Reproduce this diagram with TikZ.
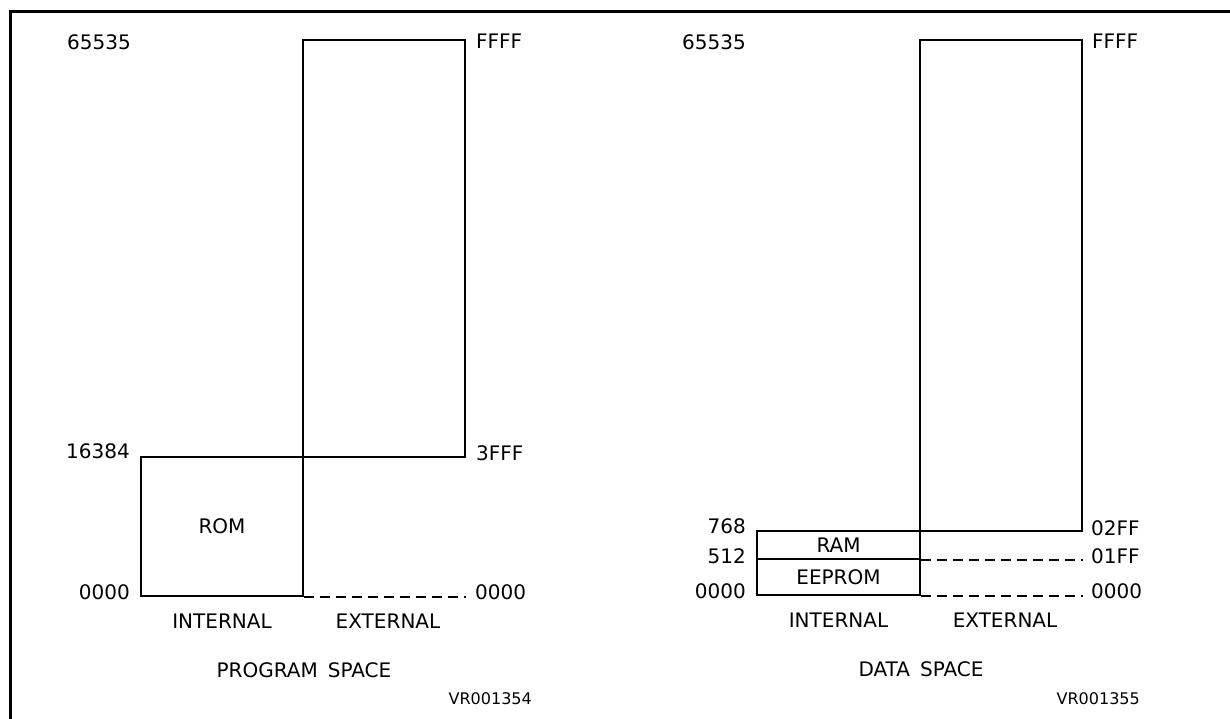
\documentclass[tikz,border=0pt]{standalone}
\usepackage{fontspec}
\setmainfont{DejaVu Sans}
\usepackage{tikz}
\usetikzlibrary{
  positioning,
  calc
}
\tikzset{
  frameline/.style={
    line width=3pt,
    draw=black,
  },
  membox/.style={
    draw=black,
    line width=2pt,
    inner sep=0pt,
    align=center,
    font=\fontsize{20}{22}\selectfont,
  },
  dashline/.style={
    line width=2pt,
    dash pattern=on 10pt off 6pt,
  },
  addr/.style={
    font=\fontsize{20}{22}\selectfont,
    inner sep=0pt,
  },
  tag/.style={
    font=\fontsize{20}{22}\selectfont,
    inner sep=0pt,
  },
  figcode/.style={
    font=\fontsize{16}{18}\selectfont,
    inner sep=0pt,
  },
}

\begin{document}
\begin{tikzpicture}[
  x=1pt, y=-1pt,
]
  \useasboundingbox (0,0) rectangle (1230,719);
  \draw[frameline] (10,719) -- (10,11.5) -- (1230,11.5);

  % Left map --- program space
  \node[membox, minimum width=162pt, minimum height=417pt] (pext) at (384,248.5) {};
  \node[membox, minimum width=162pt, minimum height=139pt] (rom) at (222,526.5) {ROM};
  \draw[dashline] (rom.south east) -- (pext.east |- rom.south);

  \node[addr, left=9pt of rom.west |- pext.north, yshift=-3pt] (p65535) {65535};
  \node[addr, left=10pt of rom.north west, yshift=5pt] (p16384) {16384};
  \node[addr, left=10pt of rom.south west, yshift=5pt] (p0000) {0000};
  \node[addr, right=10pt of pext.north east, yshift=-2pt] (pffff) {FFFF};
  \node[addr, right=10pt of pext.south east, yshift=5pt] (p3fff) {3FFF};
  \node[addr, right=9pt of pext.east |- rom.south, yshift=5pt] (p0000x) {0000};

  \node[tag, below=17pt of rom.south] (pint) {INTERNAL};
  \node[tag, below=17pt of pext.south |- rom.south, xshift=4pt] (pextl) {EXTERNAL};
  \node[tag, below=65pt of rom.south east] (ptitle) {PROGRAM\hspace{10pt}SPACE};
  \node[figcode, anchor=east] (pcode) at (532,699) {VR001354};

  % Right map --- data space
  \node[membox, minimum width=162pt, minimum height=491pt] (dext) at (1001,285.5) {};
  \node[membox, minimum width=163pt, minimum height=28pt] (ram) at (838.5,545) {RAM};
  \node[membox, minimum width=163pt, minimum height=36pt] (eeprom) at (838.5,577) {EEPROM};
  \draw[dashline] (ram.south east) -- (dext.east |- ram.south);
  \draw[dashline] (eeprom.south east) -- (dext.east |- eeprom.south);

  \node[addr, left=10pt of ram.west |- dext.north, yshift=-3pt] (d65535) {65535};
  \node[addr, left=10pt of ram.north west, yshift=4pt] (d768) {768};
  \node[addr, left=10pt of ram.south west, yshift=4pt] (d512) {512};
  \node[addr, left=10pt of eeprom.south west, yshift=5pt] (d0000) {0000};
  \node[addr, right=9pt of dext.north east, yshift=-2pt] (dffff) {FFFF};
  \node[addr, right=8pt of dext.south east, yshift=4pt] (d02ff) {02FF};
  \node[addr, right=8pt of dext.east |- ram.south, yshift=4pt] (d01ff) {01FF};
  \node[addr, right=8pt of dext.east |- eeprom.south, yshift=5pt] (d0000x) {0000};

  \node[tag, below=17pt of eeprom.south] (dint) {INTERNAL};
  \node[tag, below=17pt of dext.south |- eeprom.south, xshift=4pt] (dextl) {EXTERNAL};
  \node[tag, below=65pt of eeprom.south east] (dtitle) {DATA\hspace{10pt}SPACE};
  \node[figcode, anchor=east] (dcode) at (1140,699) {VR001355};
\end{tikzpicture}
\end{document}
